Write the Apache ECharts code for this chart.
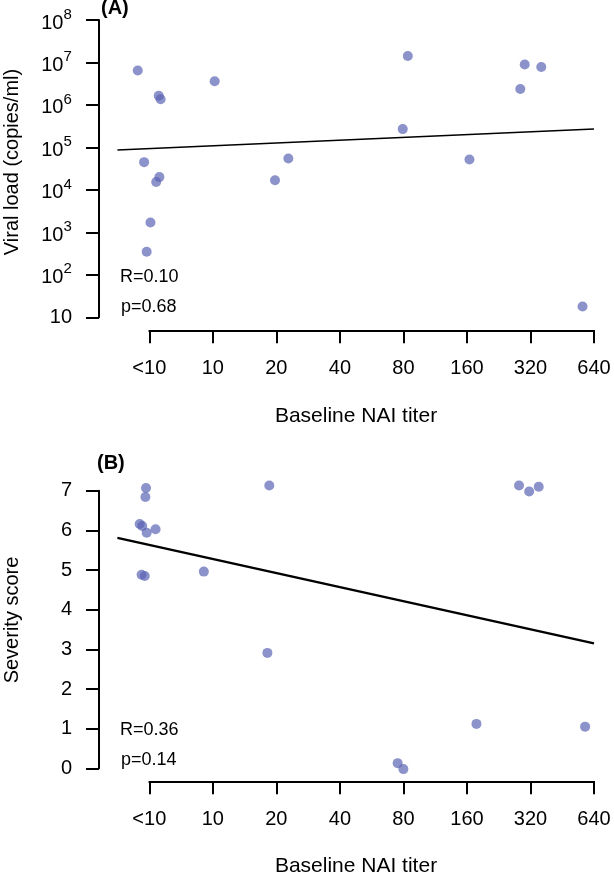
<!DOCTYPE html>
<html><head><meta charset="utf-8">
<script src="https://cdn.jsdelivr.net/npm/echarts@6/dist/echarts.min.js"></script>
<style>html,body{margin:0;padding:0;background:#fff}#c{width:614px;height:879px}</style>
</head><body><div id="c"></div>
<script>
// ---- data ----
const titerLabels = ['<10', '10', '20', '40', '80', '160', '320', '640'];
// x positions are titer category indices (with the original jitter)
const viralX    = [-0.18, 0.15, 0.18, 1.03, -0.08, 0.16, 0.11, 0.02, -0.04, 1.98, 2.19, 4.07, 3.99, 5.04, 5.91, 6.17, 5.84, 6.82];
const viralLoad = [6.5e6, 1.65e6, 1.36e6, 3.6e6, 4.5e4, 2.0e4, 1.53e4, 1.7e3, 350, 1.68e4, 5.5e4, 1.42e7, 2.7e5, 5.2e4, 9.0e6, 7.8e6, 2.37e6, 18];
const severityX = [-0.05, -0.06, -0.15, -0.11, -0.04, 0.10, -0.12, -0.07, 0.86, 1.89, 1.86, 5.82, 5.98, 6.13, 5.15, 6.86, 3.91, 4.00];
const severity  = [7.07, 6.84, 6.16, 6.11, 5.94, 6.03, 4.88, 4.85, 4.96, 7.13, 2.91, 7.13, 6.98, 7.10, 1.12, 1.05, 0.13, -0.02];
const fitViralX = [-0.5, 7];
const fitViralY = [8.7e4, 2.7e5];
const fitSevX = [-0.5, 7];
const fitSevY = [5.81, 3.15];
const statsA = ['R=0.10', 'p=0.68'];
const statsB = ['R=0.36', 'p=0.14'];
const viralRange = [10, 1e8];
const severityTicks = [0, 7, 1];
const xPlotMin = -0.79;   // left edge of the plotting region (where the y axis sits)

const FONT = 'Liberation Sans, Arial, Helvetica, sans-serif';
const zip = (a, b) => a.map((v, i) => [v, b[i]]);

const chart = echarts.init(document.getElementById('c'), null, {renderer: 'canvas'});

const axisLine = {show: true, onZero: false, lineStyle: {color: '#000', width: 2}};
const axisTick = {show: true, inside: false, length: 13, lineStyle: {color: '#000', width: 2}};
const hidden = {show: false};

// panel geometry
const PA = {top: 20, height: 297.3};
const PB = {top: 490.7, height: 277.6};

function visibleX(g) {
  return {
    gridIndex: g, type: 'value', min: 0, max: 7, interval: 1, offset: 13,
    axisLine, axisTick, splitLine: hidden,
    axisLabel: {show: true, margin: 28, fontSize: 20, color: '#000', fontFamily: FONT,
      formatter: v => titerLabels[Math.round(v)] || ''}
  };
}
function dataX(g) {
  return {gridIndex: g, type: 'value', min: xPlotMin, max: 7, show: false,
    axisLine: hidden, axisTick: hidden, axisLabel: hidden, splitLine: hidden};
}

const option = {
  animation: false,
  backgroundColor: '#fff',
  textStyle: {fontFamily: FONT},
  grid: [
    // 0,1: data grids (plot region from the y axis to the right end)
    {left: 99, right: 20, top: PA.top, height: PA.height, containLabel: false, outerBoundsMode: 'none'},
    {left: 99, right: 20, top: PB.top, height: PB.height, containLabel: false, outerBoundsMode: 'none'},
    // 2,3: grids that only carry the visible x axes (from <10 to 640)
    {left: 149.3, right: 20, top: PA.top, height: PA.height, containLabel: false, outerBoundsMode: 'none'},
    {left: 149.3, right: 20, top: PB.top, height: PB.height, containLabel: false, outerBoundsMode: 'none'}
  ],
  xAxis: [dataX(0), dataX(1), visibleX(2), visibleX(3)],
  yAxis: [
    {
      gridIndex: 0, type: 'log', logBase: 10, min: viralRange[0], max: viralRange[1],
      axisLine, axisTick, splitLine: hidden,
      axisLabel: {
        show: true, margin: 27, color: '#000', fontFamily: FONT,
        formatter: v => {
          const e = Math.round(Math.log10(v));
          return e === 1 ? '{b|10}' : '{b|10}{s|' + e + '}{sp| }';
        },
        rich: {
          b: {fontSize: 20, lineHeight: 20, verticalAlign: 'bottom', color: '#000', fontFamily: FONT},
          s: {fontSize: 15, lineHeight: 16, verticalAlign: 'top', color: '#000', fontFamily: FONT},
          sp: {fontSize: 1, lineHeight: 26}
        }
      }
    },
    {
      gridIndex: 1, type: 'value', min: severityTicks[0], max: severityTicks[1], interval: severityTicks[2],
      axisLine, axisTick, splitLine: hidden,
      axisLabel: {show: true, margin: 27, fontSize: 20, color: '#000', fontFamily: FONT}
    },
    {gridIndex: 2, type: 'log', min: viralRange[0], max: viralRange[1], show: false},
    {gridIndex: 3, type: 'value', min: severityTicks[0], max: severityTicks[1], show: false}
  ],
  series: [
    {
      type: 'scatter', xAxisIndex: 0, yAxisIndex: 0, data: zip(viralX, viralLoad),
      symbol: 'circle', symbolSize: 10, clip: false, silent: true,
      itemStyle: {color: '#5b64b4', opacity: 0.7}
    },
    {
      type: 'line', xAxisIndex: 0, yAxisIndex: 0, data: zip(fitViralX, fitViralY),
      symbol: 'none', clip: false, silent: true,
      lineStyle: {color: '#000', width: 1.5}
    },
    {
      type: 'scatter', xAxisIndex: 1, yAxisIndex: 1, data: zip(severityX, severity),
      symbol: 'circle', symbolSize: 10, clip: false, silent: true,
      itemStyle: {color: '#5b64b4', opacity: 0.7}
    },
    {
      type: 'line', xAxisIndex: 1, yAxisIndex: 1, data: zip(fitSevX, fitSevY),
      symbol: 'none', clip: false, silent: true,
      lineStyle: {color: '#000', width: 2.5}
    }
  ],
  graphic: [
    {type: 'text', x: 101, y: 8, style: {text: '(A)', font: 'bold 20px ' + FONT, fill: '#000', textAlign: 'left', textVerticalAlign: 'middle', verticalAlign: 'middle'}},
    {type: 'text', x: 97, y: 463, style: {text: '(B)', font: 'bold 20px ' + FONT, fill: '#000', textAlign: 'left', textVerticalAlign: 'middle', verticalAlign: 'middle'}},
    {type: 'text', x: 120, y: 277, style: {text: statsA[0], font: '18px ' + FONT, fill: '#000', textAlign: 'left', textVerticalAlign: 'middle', verticalAlign: 'middle'}},
    {type: 'text', x: 121, y: 307, style: {text: statsA[1], font: '18px ' + FONT, fill: '#000', textAlign: 'left', textVerticalAlign: 'middle', verticalAlign: 'middle'}},
    {type: 'text', x: 120, y: 730, style: {text: statsB[0], font: '18px ' + FONT, fill: '#000', textAlign: 'left', textVerticalAlign: 'middle', verticalAlign: 'middle'}},
    {type: 'text', x: 121, y: 760, style: {text: statsB[1], font: '18px ' + FONT, fill: '#000', textAlign: 'left', textVerticalAlign: 'middle', verticalAlign: 'middle'}},
    {type: 'text', x: 12, y: 162, rotation: Math.PI / 2, style: {text: 'Viral load (copies/ml)', font: '20px ' + FONT, fill: '#000', textAlign: 'center', textVerticalAlign: 'middle', verticalAlign: 'middle'}},
    {type: 'text', x: 12, y: 620, rotation: Math.PI / 2, style: {text: 'Severity score', font: '20px ' + FONT, fill: '#000', textAlign: 'center', textVerticalAlign: 'middle', verticalAlign: 'middle'}},
    {type: 'text', x: 356, y: 416, style: {text: 'Baseline NAI titer', font: '21px ' + FONT, fill: '#000', textAlign: 'center', textVerticalAlign: 'middle', verticalAlign: 'middle'}},
    {type: 'text', x: 356, y: 866, style: {text: 'Baseline NAI titer', font: '21px ' + FONT, fill: '#000', textAlign: 'center', textVerticalAlign: 'middle', verticalAlign: 'middle'}}
  ]
};
chart.setOption(option);
</script>
</body></html>
